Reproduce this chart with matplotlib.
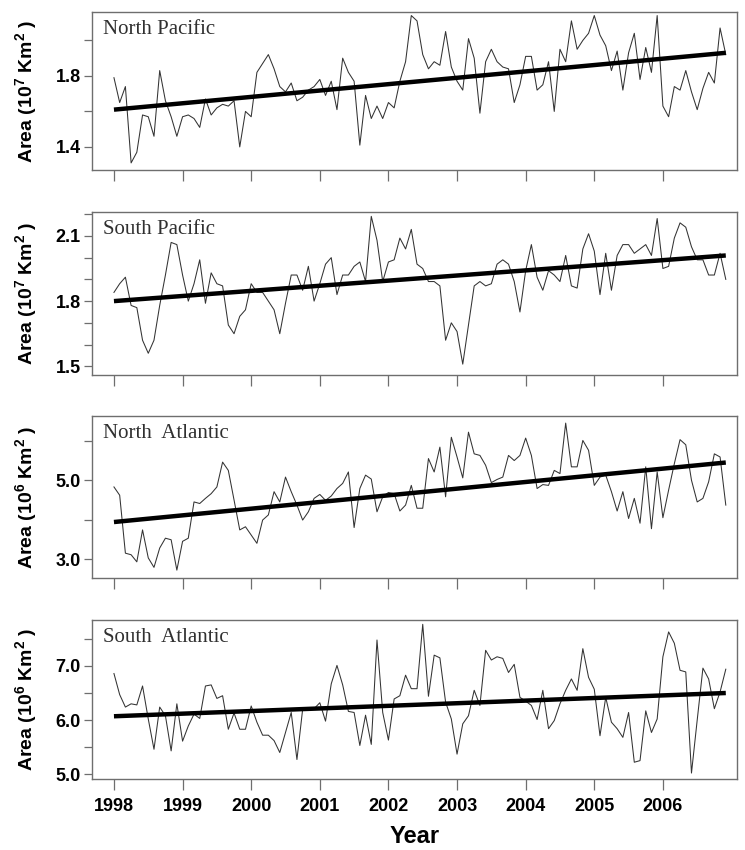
import numpy as np
import matplotlib
matplotlib.use("Agg")
import matplotlib.pyplot as plt
from matplotlib.ticker import FixedLocator

plt.rcParams['font.family'] = ['Liberation Sans', 'DejaVu Sans']
plt.rcParams['mathtext.fontset'] = 'custom'
plt.rcParams['mathtext.rm'] = 'Liberation Sans'
plt.rcParams['mathtext.bf'] = 'Liberation Sans:bold'

# monthly values, Jan 1998 .. Dec 2006
months = 1998 + np.arange(108) / 12.0

north_pacific = [
    1.79, 1.65, 1.74, 1.31, 1.37, 1.58, 1.57, 1.46, 1.83, 1.66, 1.57, 1.46,
    1.57, 1.58, 1.56, 1.51, 1.67, 1.58, 1.62, 1.64, 1.63, 1.66, 1.40, 1.60,
    1.57, 1.82, 1.87, 1.92, 1.84, 1.74, 1.71, 1.76, 1.66, 1.68, 1.72, 1.74,
    1.78, 1.69, 1.77, 1.61, 1.90, 1.82, 1.77, 1.41, 1.69, 1.56, 1.63, 1.56,
    1.65, 1.62, 1.77, 1.88, 2.14, 2.11, 1.92, 1.84, 1.88, 1.86, 2.05, 1.85,
    1.77, 1.72, 2.01, 1.90, 1.59, 1.88, 1.95, 1.88, 1.85, 1.84, 1.65, 1.75,
    1.91, 1.91, 1.72, 1.75, 1.88, 1.60, 1.95, 1.88, 2.11, 1.95, 2.00, 2.04,
    2.14, 2.03, 1.97, 1.83, 1.94, 1.72, 1.93, 2.04, 1.78, 1.96, 1.82, 2.14,
    1.63, 1.57, 1.74, 1.72, 1.83, 1.71, 1.61, 1.73, 1.82, 1.76, 2.07, 1.92,
]
south_pacific = [
    1.84, 1.88, 1.91, 1.78, 1.77, 1.62, 1.56, 1.62, 1.78, 1.92, 2.07, 2.06,
    1.92, 1.80, 1.88, 1.99, 1.79, 1.93, 1.88, 1.87, 1.69, 1.65, 1.73, 1.76,
    1.88, 1.84, 1.84, 1.80, 1.76, 1.65, 1.79, 1.92, 1.92, 1.85, 1.96, 1.80,
    1.88, 1.97, 2.00, 1.83, 1.92, 1.92, 1.96, 1.98, 1.89, 2.19, 2.08, 1.89,
    1.98, 1.99, 2.09, 2.04, 2.13, 1.97, 1.95, 1.89, 1.89, 1.87, 1.62, 1.70,
    1.66, 1.51, 1.69, 1.87, 1.89, 1.87, 1.88, 1.97, 1.99, 1.97, 1.89, 1.75,
    1.94, 2.06, 1.91, 1.85, 1.94, 1.92, 1.89, 2.01, 1.87, 1.86, 2.04, 2.11,
    2.03, 1.83, 2.02, 1.85, 2.01, 2.06, 2.06, 2.02, 2.04, 2.06, 2.01, 2.18,
    1.95, 1.96, 2.09, 2.16, 2.14, 2.05, 1.99, 1.99, 1.92, 1.92, 2.02, 1.90,
]
north_atlantic = [
    4.83, 4.62, 3.15, 3.11, 2.93, 3.74, 3.03, 2.79, 3.28, 3.53, 3.49, 2.72,
    3.45, 3.53, 4.45, 4.41, 4.54, 4.66, 4.83, 5.46, 5.25, 4.50, 3.74, 3.82,
    3.61, 3.40, 3.99, 4.12, 4.71, 4.45, 5.08, 4.71, 4.37, 3.99, 4.20, 4.54,
    4.64, 4.49, 4.60, 4.79, 4.92, 5.21, 3.80, 4.79, 5.13, 5.03, 4.20, 4.58,
    4.69, 4.66, 4.22, 4.37, 4.87, 4.29, 4.29, 5.55, 5.21, 5.84, 4.58, 6.09,
    5.59, 5.06, 6.22, 5.67, 5.63, 5.38, 4.94, 5.02, 5.08, 5.63, 5.50, 5.63,
    6.07, 5.63, 4.79, 4.89, 4.87, 5.25, 5.17, 6.45, 5.34, 5.34, 6.01, 5.76,
    4.87, 5.08, 5.13, 4.71, 4.22, 4.71, 4.03, 4.54, 3.91, 5.34, 3.77, 5.21,
    4.05, 4.75, 5.42, 6.03, 5.90, 5.00, 4.45, 4.54, 4.96, 5.67, 5.59, 4.37,
]
south_atlantic = [
    6.86, 6.47, 6.24, 6.30, 6.28, 6.63, 6.02, 5.46, 6.24, 6.08, 5.43, 6.30,
    5.61, 5.89, 6.11, 6.03, 6.63, 6.65, 6.40, 6.45, 5.83, 6.13, 5.83, 5.83,
    6.26, 5.96, 5.72, 5.72, 5.62, 5.40, 5.77, 6.14, 5.27, 6.20, 6.20, 6.21,
    6.32, 5.98, 6.67, 7.01, 6.65, 6.16, 6.14, 5.53, 6.09, 5.55, 7.48, 6.14,
    5.63, 6.39, 6.45, 6.83, 6.58, 6.58, 7.77, 6.44, 7.20, 7.15, 6.33, 6.02,
    5.37, 5.93, 6.08, 6.55, 6.27, 7.29, 7.11, 7.17, 7.14, 6.88, 7.03, 6.42,
    6.35, 6.27, 6.01, 6.55, 5.84, 5.99, 6.30, 6.55, 6.76, 6.55, 7.32, 6.79,
    6.57, 5.71, 6.42, 5.96, 5.84, 5.68, 6.14, 5.22, 5.25, 6.17, 5.77, 6.02,
    7.17, 7.63, 7.42, 6.92, 6.89, 5.02, 6.00, 6.96, 6.76, 6.21, 6.52, 6.94,
]

# trend line end values (Jan 1998, Dec 2006)
trend_np = [1.61, 1.93]
trend_sp = [1.80, 2.01]
trend_na = [3.94, 5.45]
trend_sa = [6.07, 6.50]

names = ['North Pacific', 'South Pacific', 'North  Atlantic', 'South  Atlantic']
series = [north_pacific, south_pacific, north_atlantic, south_atlantic]
trends = [trend_np, trend_sp, trend_na, trend_sa]
ylabels = [r'Area (10$^{\bf 7}$ Km$^{\bf 2}$ )', r'Area (10$^{\bf 7}$ Km$^{\bf 2}$ )',
           r'Area (10$^{\bf 6}$ Km$^{\bf 2}$ )', r'Area (10$^{\bf 6}$ Km$^{\bf 2}$ )']
ylims = [(1.27, 2.16), (1.46, 2.21), (2.52, 6.63), (4.91, 7.85)]
major_ticks = [[1.4, 1.8], [1.5, 1.8, 2.1], [3.0, 5.0], [5.0, 6.0, 7.0]]
minor_ticks = [[1.6, 2.0], [1.6, 1.7, 1.9, 2.0, 2.2], [4.0, 6.0], [5.5, 6.5, 7.5]]
years = list(range(1998, 2007))

# panel boxes in pixels (top, bottom)
boxes = [(12, 170), (212, 375), (416, 578), (620, 779)]

fig = plt.figure(figsize=(7.45, 8.5), dpi=100)
edge = '#6e6e6e'
for k in range(4):
    top, bot = boxes[k]
    ax = fig.add_axes([92 / 745, 1 - bot / 850, 645 / 745, (bot - top) / 850])
    ax.plot(months, series[k], color='#333333', lw=0.75)
    ax.plot([months[0], months[-1]], trends[k], color='black', lw=3.2,
            solid_capstyle='butt')
    ax.set_xlim(1997.68, 2007.08)
    ax.set_ylim(*ylims[k])
    ax.yaxis.set_major_locator(FixedLocator(major_ticks[k]))
    ax.yaxis.set_minor_locator(FixedLocator(minor_ticks[k]))
    ax.yaxis.set_major_formatter('{x:.1f}')
    ax.set_xticks(years)
    for s in ax.spines.values():
        s.set_color(edge)
        s.set_linewidth(1.0)
    ax.tick_params(axis='y', which='both', direction='out', length=6,
                   width=0.9, color=edge, labelsize=13, pad=2)
    ax.tick_params(axis='x', which='both', direction='out', length=8,
                   width=0.9, color=edge, labelsize=13, pad=6)
    for t in ax.get_yticklabels():
        t.set_fontweight('bold')
    if k < 3:
        ax.tick_params(axis='x', labelbottom=False)
    else:
        for t in ax.get_xticklabels():
            t.set_fontweight('bold')
        ax.set_xlabel('Year', fontsize=17, fontweight='bold', labelpad=7)
    ax.set_ylabel(ylabels[k], fontsize=14, fontweight='bold')
    ax.yaxis.set_label_coords(-0.08, 0.5)
    ax.text(0.017, 0.95, names[k], transform=ax.transAxes, va='top', ha='left',
            fontsize=15, family='Liberation Serif', color='#303030')

plt.savefig('out.png', dpi=100)
